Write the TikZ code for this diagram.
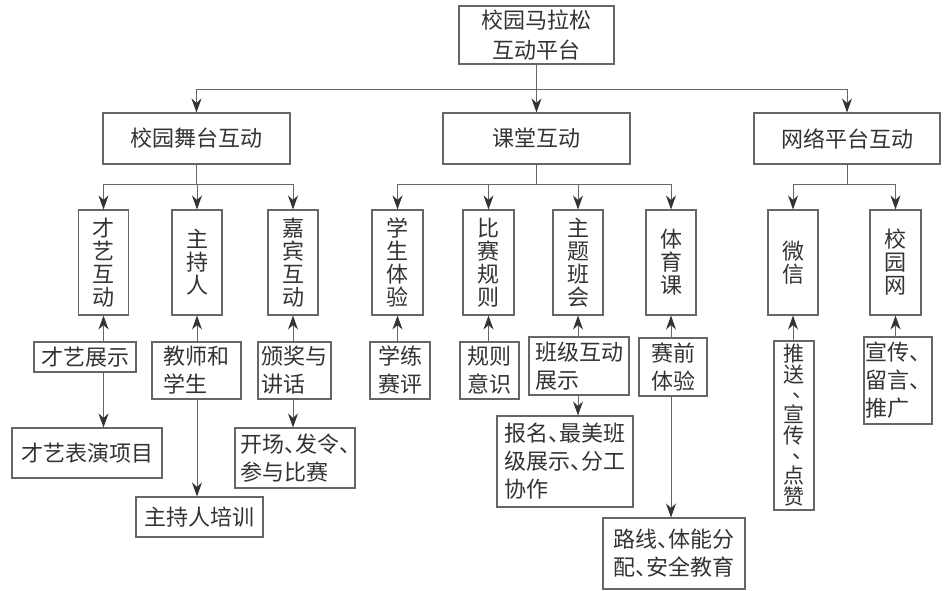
\documentclass[tikz,border=0pt]{standalone}
\usepackage{fontspec}
\setmainfont{Noto Sans CJK SC}
\usepackage{xcolor}
\usetikzlibrary{arrows.meta}
\definecolor{linegray}{HTML}{666666}
\definecolor{textgray}{HTML}{333333}
\newcommand{\dun}{\makebox[.5em][l]{、}}
\newcommand{\vdun}{\makebox[1em][l]{\hspace{.45em}\raisebox{.25em}[.4em][0pt]{、}}}

\begin{document}
\begin{tikzpicture}[x=1pt,y=-1pt,
    box/.style={draw=linegray,line width=1.1pt,text=textgray,inner sep=0pt,align=left,font=\fontsize{22}{28}\selectfont},
    vbox/.style={box,align=center,font=\fontsize{22}{23}\selectfont},
    sz/.style n args={2}{minimum width=#1pt,minimum height=#2pt},
    link/.style={draw=linegray,line width=1pt},
    arr/.style={link,-{Stealth[length=14pt,width=10pt,inset=4.5pt,color=textgray]}}]
    \useasboundingbox (0,0) rectangle (945,591);
    % top levels
    \node[box,sz={155}{58},align=center,font=\fontsize{22}{30}\selectfont] (root) at (536.5,35) {校园马拉松\\互动平台};
    \node[box,sz={187}{51},align=center] (stage) at (196.5,138.5) {校园舞台互动};
    \node[box,sz={187}{51},align=center] (class) at (536.5,138.5) {课堂互动};
    \node[box,sz={186}{51},align=center] (net) at (847,138.5) {网络平台互动};
    % second level, vertical text
    \node[vbox,sz={50}{105}] (talent) at (103.5,262.5) {才\\艺\\互\\动};
    \node[vbox,sz={50}{105}] (host) at (197,262.5) {主\\持\\人};
    \node[vbox,sz={50}{105}] (guest) at (293,262.5) {嘉\\宾\\互\\动};
    \node[vbox,sz={51}{105}] (learn) at (397.5,262.5) {学\\生\\体\\验};
    \node[vbox,sz={51}{105}] (rule) at (488.5,262.5) {比\\赛\\规\\则};
    \node[vbox,sz={50}{105}] (theme) at (578,262.5) {主\\题\\班\\会};
    \node[vbox,sz={50}{105}] (pe) at (671,262.5) {体\\育\\课};
    \node[vbox,sz={50}{105}] (wechat) at (793,262.5) {微\\信};
    \node[vbox,sz={51}{105}] (web) at (895.5,262.5) {校\\园\\网};
    % third level
    \node[box,sz={102}{30}] (show) at (85,357) {才艺展示};
    \node[box,sz={89}{57}] (teach) at (196.5,370.5) {教师和\\学生};
    \node[box,sz={73}{57}] (award) at (294.5,370.5) {颁奖与\\讲话};
    \node[box,sz={60}{57}] (practice) at (400,370.5) {学练\\赛评};
    \node[box,sz={59}{57}] (aware) at (489.5,370.5) {规则\\意识};
    \node[box,sz={100}{58}] (clsshow) at (579,366) {班级互动\\展示};
    \node[box,sz={68}{58}] (pre) at (673,367) {赛前\\体验};
    \node[vbox,sz={40}{169},font=\fontsize{21}{21}\selectfont] (push) at (794,425.5) {推\\送\\[-1pt]\vdun\\[-1pt]宣\\传\\[-1pt]\vdun\\[-1pt]点\\赞};
    \node[box,sz={68}{87}] (promo) at (898,380.5) {宣传、\\留言、\\推广};
    % fourth level
    \node[box,sz={150}{50}] (perform) at (87,453) {才艺表演项目};
    \node[box,sz={127}{40}] (train) at (199.5,517) {主持人培训};
    \node[box,sz={120}{60}] (open) at (295,458) {开场\dun 发令\dun\\参与比赛};
    \node[box,sz={136}{91}] (sign) at (565,461.5) {报名\dun 最美班\\级展示\dun 分工\\协作};
    \node[box,sz={142}{71}] (route) at (674,553.5) {路线\dun 体能分\\配\dun 安全教育};
    % connectors from the root
    \coordinate (j0) at (536.5,90);
    \draw[link] (root.south) -- (j0);
    \draw[arr] (j0) -- (class.north);
    \draw[arr] (j0) -| (stage.north);
    \draw[arr] (j0) -| (net.north);
    % stage branch
    \coordinate (j1) at (196.5,184);
    \draw[arr] (stage.south) -- (j1) -| (host.north);
    \draw[arr] (j1) -| (talent.north);
    \draw[arr] (j1) -| (guest.north);
    % class branch
    \coordinate (j2) at (536.5,184);
    \draw[link] (class.south) -- (j2);
    \draw[arr] (j2) -| (learn.north);
    \draw[arr] (j2) -| (rule.north);
    \draw[arr] (j2) -| (theme.north);
    \draw[arr] (j2) -| (pe.north);
    % net branch
    \coordinate (j3) at (847,184);
    \draw[link] (net.south) -- (j3);
    \draw[arr] (j3) -| (wechat.north);
    \draw[arr] (j3) -| (web.north);
    % upward arrows from the third level
    \draw[arr] (talent.south |- show.north) -- (talent.south);
    \draw[arr] (host.south |- teach.north) -- (host.south);
    \draw[arr] (guest.south |- award.north) -- (guest.south);
    \draw[arr] (learn.south |- practice.north) -- (learn.south);
    \draw[arr] (rule.south |- aware.north) -- (rule.south);
    \draw[arr] (theme.south |- clsshow.north) -- (theme.south);
    \draw[arr] (pe.south |- pre.north) -- (pe.south);
    \draw[arr] (wechat.south |- push.north) -- (wechat.south);
    \draw[arr] (web.south |- promo.north) -- (web.south);
    % downward arrows to the fourth level
    \draw[arr] (talent.south |- show.south) -- (talent.south |- perform.north);
    \draw[arr] (host.south |- teach.south) -- (host.south |- train.north);
    \draw[arr] (guest.south |- award.south) -- (guest.south |- open.north);
    \draw[arr] (theme.south |- clsshow.south) -- (theme.south |- sign.north);
    \draw[arr] (pe.south |- pre.south) -- (pe.south |- route.north);
\end{tikzpicture}
\end{document}
